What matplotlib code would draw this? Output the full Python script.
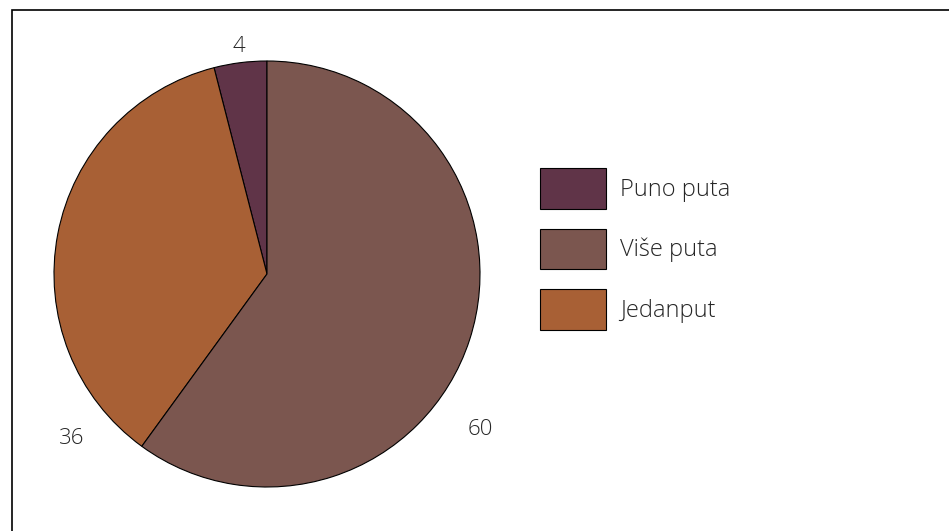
import matplotlib.pyplot as plt
from matplotlib.patches import Rectangle, Patch
import numpy as np

plt.rcParams['font.family'] = ['Open Sans', 'DejaVu Sans']
plt.rcParams['font.weight'] = 'light'

# data
categories = ['Puno puta', 'Više puta', 'Jedanput']
values = [4, 60, 36]
colors = ['#603448', '#7B564F', '#A86035']

# pie goes counterclockwise from the top: Puno, Jedanput, Više
pie_order = [0, 2, 1]

fig = plt.figure(figsize=(9.49, 5.31), dpi=100)

# outer frame (runs off the right and bottom edges)
fig.patches.append(Rectangle((12 / 949, -0.1), 1.0, 1.1 - 10 / 531,
                             transform=fig.transFigure, fill=False,
                             edgecolor='black', linewidth=1.2))

ax = fig.add_axes([54 / 949, 44 / 531, 426 / 949, 426 / 531])
wedges, _ = ax.pie([values[i] for i in pie_order],
                   colors=[colors[i] for i in pie_order],
                   startangle=90, counterclock=True, radius=1,
                   wedgeprops={'edgecolor': 'black', 'linewidth': 0.8})
ax.set_xlim(-1, 1)
ax.set_ylim(-1, 1)
ax.set_aspect('equal')
ax.axis('off')

# value labels (angle in degrees, distance in radii)
label_pos = {0: (97, 1.075), 2: (220, 1.20), 1: (324, 1.24)}
for i, (ang, d) in label_pos.items():
    a = np.deg2rad(ang)
    ax.text(d * np.cos(a), d * np.sin(a), str(values[i]), ha='center',
            va='center', fontsize=16, color='#262626', clip_on=False)

# legend sized in units of its font size (17 pt)
fs = 17
handles = [Patch(facecolor=c, edgecolor='black', linewidth=0.8) for c in colors]
fig.legend(handles, categories, loc='upper left',
           bbox_to_anchor=(520 / 949, 1 - 148 / 531), frameon=False,
           fontsize=fs, handlelength=2.97 * 16 / fs, handleheight=2.27,
           labelspacing=0.9 * 16 / fs, handletextpad=0.63 * 16 / fs,
           borderpad=0.4 * 16 / fs, borderaxespad=0.5 * 16 / fs,
           labelcolor='#262626')

fig.savefig('out.png', dpi=100)
